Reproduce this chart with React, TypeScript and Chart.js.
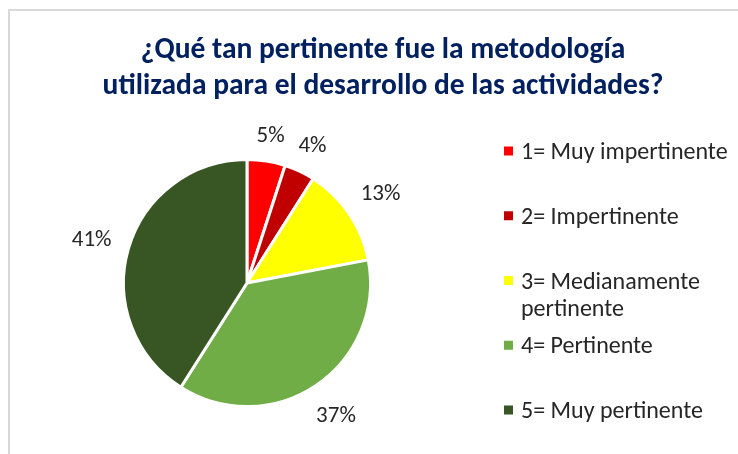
import React, { useEffect, useRef } from 'react';
import { Chart, registerables } from 'chart.js';

Chart.register(...registerables);

const TITLE_LINES = ['¿Qué tan pertinente fue la metodología', 'utilizada para el desarrollo de las actividades?'];
const CATEGORIES = ['1= Muy impertinente', '2= Impertinente', '3= Medianamente pertinente', '4= Pertinente', '5= Muy pertinente'];
const LEGEND_LINES = [['1= Muy impertinente'], ['2= Impertinente'], ['3= Medianamente', 'pertinente'], ['4= Pertinente'], ['5= Muy pertinente']];
const VALUES = [5, 4, 13, 37, 41];
const COLORS = ['#FF0000', '#C00000', '#FFFF00', '#70AD47', '#375623'];

const FONT = 'Carlito, Lato, "Noto Sans", sans-serif';
const TEXT_COLOR = '#262626';

const overlayPlugin = {
  id: 'overlay',
  afterDatasetsDraw(chart: any) {
    const ctx = chart.ctx as CanvasRenderingContext2D;
    ctx.save();
    // Title
    ctx.fillStyle = '#002060';
    ctx.font = `bold 29.5px ${FONT}`;
    ctx.textAlign = 'center';
    ctx.textBaseline = 'alphabetic';
    TITLE_LINES.forEach((line, i) => {
      ctx.fillText(line, 383, 58 + i * 36);
    });

    // Percent labels
    const meta = chart.getDatasetMeta(0);
    const data = chart.data.datasets[0].data as number[];
    ctx.font = `23px ${FONT}`;
    ctx.fillStyle = TEXT_COLOR;
    const capH = 16;
    meta.data.forEach((arc: any, i: number) => {
      const p = arc.getProps(['x', 'y', 'startAngle', 'endAngle', 'outerRadius'], true);
      const mid = (p.startAngle + p.endAngle) / 2;
      const ux = Math.cos(mid);
      const uy = Math.sin(mid);
      const text = `${data[i]}%`;
      const w = ctx.measureText(text).width;
      const extra = (w / 2) * Math.abs(ux) + (capH / 2) * Math.abs(uy);
      const r = p.outerRadius + 17 + extra;
      const cx = p.x + r * ux;
      const cy = p.y + r * uy;
      ctx.textAlign = 'center';
      ctx.fillText(text, cx, cy + capH / 2);
    });

    // Legend
    ctx.font = `24px ${FONT}`;
    ctx.textAlign = 'left';
    const legendTop = 151;
    const step = 64.75;
    LEGEND_LINES.forEach((lines, i) => {
      const yc = legendTop + i * step;
      ctx.fillStyle = COLORS[i];
      ctx.fillRect(504, yc - 4.5, 9, 9);
      ctx.fillStyle = TEXT_COLOR;
      lines.forEach((ln, j) => {
        ctx.fillText(ln, 521, yc + 8 + j * 27);
      });
    });
    ctx.restore();
  },
};

export default function App() {
  const ref = useRef<HTMLCanvasElement | null>(null);
  useEffect(() => {
    if (!ref.current) return;
    const chart = new Chart(ref.current, {
      type: 'pie',
      data: {
        labels: CATEGORIES,
        datasets: [
          {
            data: VALUES,
            backgroundColor: COLORS,
            borderColor: '#ffffff',
            borderWidth: 3,
          },
        ],
      },
      options: {
        responsive: false,
        maintainAspectRatio: false,
        animation: false,
        layout: { padding: { left: 122, right: 366, top: 158, bottom: 46 } },
        plugins: {
          legend: { display: false },
          title: { display: false },
          tooltip: { enabled: false },
        },
      },
      plugins: [overlayPlugin],
    });
    return () => chart.destroy();
  }, []);

  return (
    <div style={{ position: 'fixed', left: 0, top: 0, width: 738, height: 454, overflow: 'hidden', background: '#fff' }}>
      <div
        style={{
          position: 'absolute',
          left: 8,
          top: 9,
          width: 800,
          height: 600,
          borderLeft: '2px solid #d9d9d9',
          borderTop: '2px solid #d9d9d9',
        }}
      />
      <canvas ref={ref} width={738} height={454} style={{ position: 'absolute', left: 0, top: 0 }} />
    </div>
  );
}
